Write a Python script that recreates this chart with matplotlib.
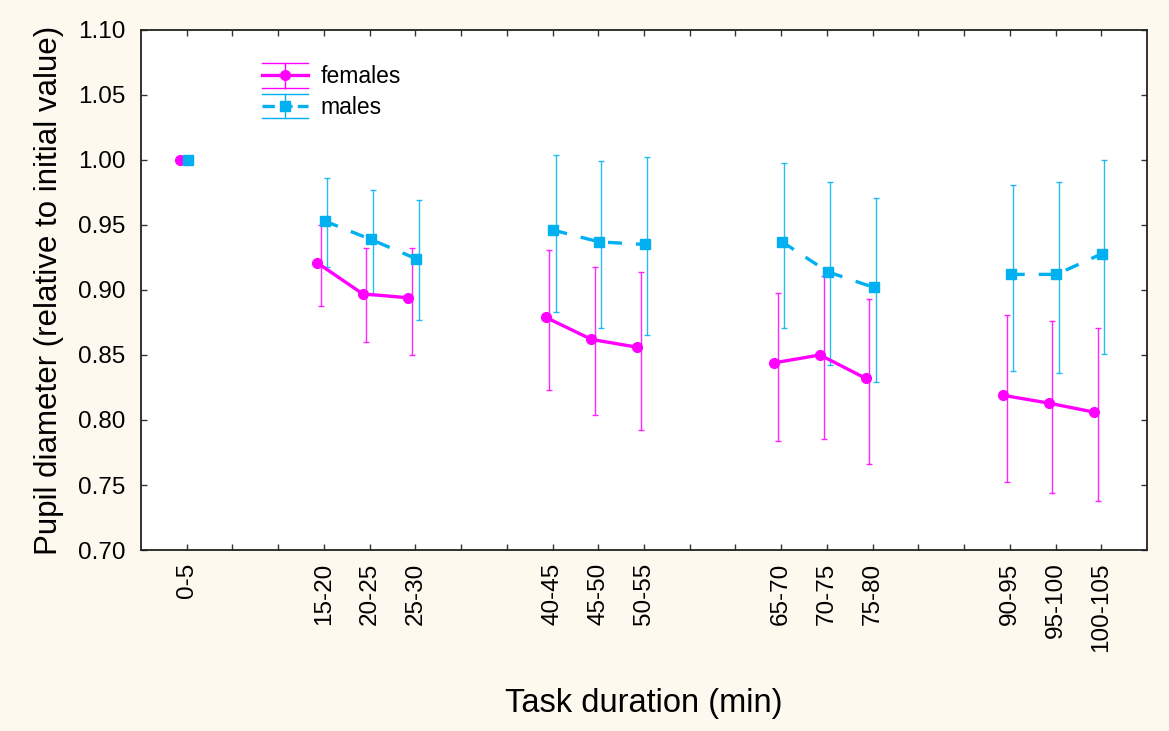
import matplotlib.pyplot as plt
import numpy as np
from matplotlib.legend_handler import HandlerBase
from matplotlib.lines import Line2D

# Интервалы времени (начало интервала, мин) и подписи к ним
bin_start = [0, 15, 20, 25, 40, 45, 50, 65, 70, 75, 90, 95, 100]
bin_labels = ['0-5', '15-20', '20-25', '25-30', '40-45', '45-50', '50-55',
              '65-70', '70-75', '75-80', '90-95', '95-100', '100-105']

# Средние значения и границы доверительных интервалов
females_mean = [1.000, 0.921, 0.897, 0.894, 0.879, 0.862, 0.856, 0.844, 0.850, 0.832, 0.819, 0.813, 0.806]
females_hi = [1.000, 0.950, 0.932, 0.932, 0.931, 0.918, 0.914, 0.898, 0.911, 0.893, 0.881, 0.876, 0.871]
females_lo = [1.000, 0.888, 0.860, 0.850, 0.823, 0.804, 0.792, 0.784, 0.785, 0.766, 0.752, 0.744, 0.738]

males_mean = [1.000, 0.953, 0.939, 0.924, 0.946, 0.937, 0.935, 0.937, 0.914, 0.902, 0.912, 0.912, 0.928]
males_hi = [1.000, 0.986, 0.977, 0.969, 1.004, 0.999, 1.002, 0.998, 0.983, 0.971, 0.981, 0.983, 1.000]
males_lo = [1.000, 0.918, 0.896, 0.877, 0.883, 0.871, 0.865, 0.871, 0.842, 0.829, 0.838, 0.836, 0.851]

FEMALE = '#FF00FF'
MALE = '#00B0F0'
BG = '#FDF9EE'


class ErrorbarHandle(HandlerBase):
    # Значок легенды: линия, маркер, вертикальный отрезок и широкие "шапки"
    def create_artists(self, legend, orig_handle, xdescent, ydescent,
                       width, height, fontsize, trans):
        x0, x1 = -xdescent, -xdescent + width
        xm = (x0 + x1) / 2
        ym = -ydescent + height / 2
        h = height * 0.6
        color = orig_handle.get_color()
        artists = [
            Line2D([x0, x1], [ym, ym], color=color, lw=orig_handle.get_linewidth(),
                   linestyle=orig_handle.get_linestyle()),
            Line2D([xm, xm], [ym - h, ym + h], color=color, lw=1.0),
            Line2D([x0, x1], [ym + h, ym + h], color=color, lw=1.0),
            Line2D([x0, x1], [ym - h, ym - h], color=color, lw=1.0),
            Line2D([xm], [ym], color=color, marker=orig_handle.get_marker(),
                   markersize=orig_handle.get_markersize(), linestyle='none'),
        ]
        for a in artists:
            a.set_transform(trans)
        return artists


def draw_series(ax, pos, mean, lo, hi, color, marker, ls, mark_shift, err_shift):
    mean, lo, hi = np.array(mean), np.array(lo), np.array(hi)
    yerr = [mean - lo, hi - mean]
    ax.errorbar(pos + err_shift, mean, yerr=yerr, fmt='none', ecolor=color,
                elinewidth=1.0, capsize=2.0, capthick=1.0, alpha=0.85, zorder=2)
    # Линии соединяют только соседние интервалы внутри блока
    breaks = np.where(np.diff(pos) > 1)[0] + 1
    for idx in np.split(np.arange(len(pos)), breaks):
        ax.plot(pos[idx] + mark_shift, mean[idx], color=color, lw=2.4, linestyle=ls,
                marker=marker, markersize=7, zorder=3)


def main():
    plt.rcParams['font.family'] = ['Liberation Sans', 'DejaVu Sans']

    pos = np.array(bin_start) / 5

    fig = plt.figure(figsize=(11.69, 7.31), dpi=100, facecolor=BG)
    ax = fig.add_axes([0.1206, 0.2476, 0.8606, 0.7114])
    ax.set_facecolor('white')

    draw_series(ax, pos, females_mean, females_lo, females_hi, FEMALE, 'o', '-', -0.15, -0.07)
    draw_series(ax, pos, males_mean, males_lo, males_hi, MALE, 's', (0, (4.2, 4.2)), 0.02, 0.07)

    ax.set_xlim(-1, 21)
    ax.set_ylim(0.70, 1.10)
    ax.set_xticks(pos)
    ax.set_xticklabels(bin_labels, rotation=90, fontsize=17.5)
    ax.set_xticks(np.arange(0, 21), minor=True)
    ax.set_yticks(np.arange(0.70, 1.101, 0.05))
    ax.set_yticklabels([f'{v:.2f}' for v in np.arange(0.70, 1.101, 0.05)], fontsize=17.5)
    ax.tick_params(which='both', direction='in', top=True, right=True,
                   length=4, width=1.0, color='#333333')
    ax.tick_params(axis='x', pad=9)
    ax.tick_params(axis='y', pad=11)
    for s in ax.spines.values():
        s.set_linewidth(1.3)
        s.set_color('#222222')

    ax.set_xlabel('Task duration (min)', fontsize=23.5, labelpad=26)
    ax.set_ylabel('Pupil diameter (relative to initial value)', fontsize=22.5, labelpad=10)

    h_f = Line2D([], [], color=FEMALE, lw=2.4, marker='o', markersize=7)
    h_m = Line2D([], [], color=MALE, lw=2.4, linestyle=(0, (2.2, 2.2)), marker='s', markersize=7)
    ax.legend([h_f, h_m], ['females', 'males'], loc='upper left',
              bbox_to_anchor=(0.1, 0.972), frameon=False, fontsize=16.5,
              handlelength=2.0, handleheight=1.0, labelspacing=0.32, handletextpad=0.55,
              handler_map={Line2D: ErrorbarHandle()})

    fig.savefig('out.png', dpi=100, facecolor=BG)


if __name__ == '__main__':
    main()
